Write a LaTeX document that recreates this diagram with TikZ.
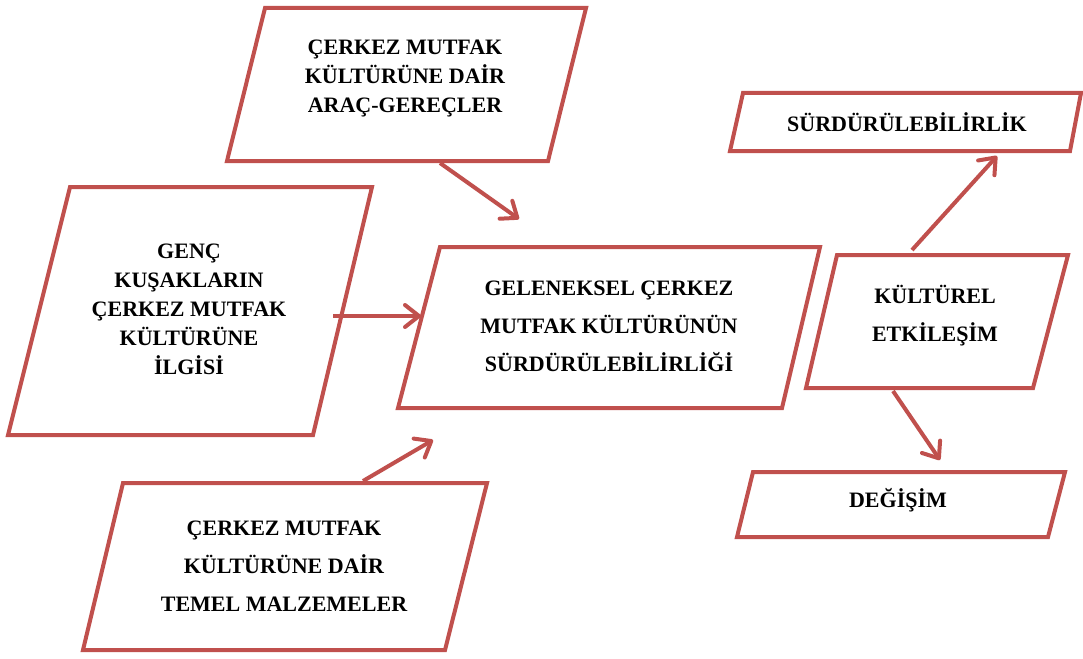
\documentclass[tikz,border=0pt]{standalone}
\usepackage{fontspec}
\setmainfont{Liberation Serif}
\usetikzlibrary{arrows.meta}
\definecolor{boxred}{RGB}{192,80,77}
\tikzset{
  pbox/.style={draw=boxred, line width=4pt, line join=miter, fill=white},
  lbl/.style={font=\fontsize{22}{29}\selectfont\bfseries, align=center, text=black, inner sep=0pt},
  lblwide/.style={font=\fontsize{22}{38}\selectfont\bfseries, align=center, text=black, inner sep=0pt},
  conn/.style={draw=boxred, line width=4pt, -{Straight Barb[length=14pt,width=22pt,round]}}
}
\begin{document}
\begin{tikzpicture}[x=1pt,y=-1pt]
\useasboundingbox (0,0) rectangle (1083,658);
% boxes
\draw[pbox] (265,8) -- (586,8) -- (548,161) -- (227,161) -- cycle;
\draw[pbox] (70,187) -- (372,187) -- (313,435) -- (8,435) -- cycle;
\draw[pbox] (440,247) -- (820,247) -- (782,408) -- (398,408) -- cycle;
\draw[pbox] (123,483) -- (487,483) -- (445,650) -- (83,650) -- cycle;
\draw[pbox] (743,93) -- (1081,93) -- (1070,151) -- (730,151) -- cycle;
\draw[pbox] (837,255) -- (1068,255) -- (1033,388) -- (806,388) -- cycle;
\draw[pbox] (753,472) -- (1065,472) -- (1048,537) -- (737,537) -- cycle;
% labels
\node[lbl] (arac) at (405,78) {ÇERKEZ MUTFAK\\KÜLTÜRÜNE DAİR\\ARAÇ-GEREÇLER};
\node[lbl] (genc) at (189,309) {GENÇ\\KUŞAKLARIN\\ÇERKEZ MUTFAK\\KÜLTÜRÜNE\\İLGİSİ};
\node[lblwide] (gelenek) at (609,326) {GELENEKSEL ÇERKEZ\\MUTFAK KÜLTÜRÜNÜN\\SÜRDÜRÜLEBİLİRLİĞİ};
\node[lblwide] (temel) at (284,566) {ÇERKEZ MUTFAK\\KÜLTÜRÜNE DAİR\\TEMEL MALZEMELER};
\node[lbl] (surd) at (907,122) {SÜRDÜRÜLEBİLİRLİK};
\node[lblwide] (kultur) at (935,316) {KÜLTÜREL\\ETKİLEŞİM};
\node[lbl] (degisim) at (898,500) {DEĞİŞİM};
% connector end points
\coordinate (aracS) at (440,163);
\coordinate (aracE) at (519,219);
\coordinate (gencS) at (333,316);
\coordinate (gencE) at (421,316);
\coordinate (temelS) at (363,481);
\coordinate (temelE) at (433,440);
\coordinate (kulturN) at (912,250);
\coordinate (surdE) at (997,156);
\coordinate (kulturS) at (893,391);
\coordinate (degE) at (940,460);
% connectors
\draw[conn] (aracS) -- (aracE);
\draw[conn] (gencS) -- (gencE);
\draw[conn] (temelS) -- (temelE);
\draw[conn] (kulturN) -- (surdE);
\draw[conn] (kulturS) -- (degE);
\end{tikzpicture}
\end{document}
